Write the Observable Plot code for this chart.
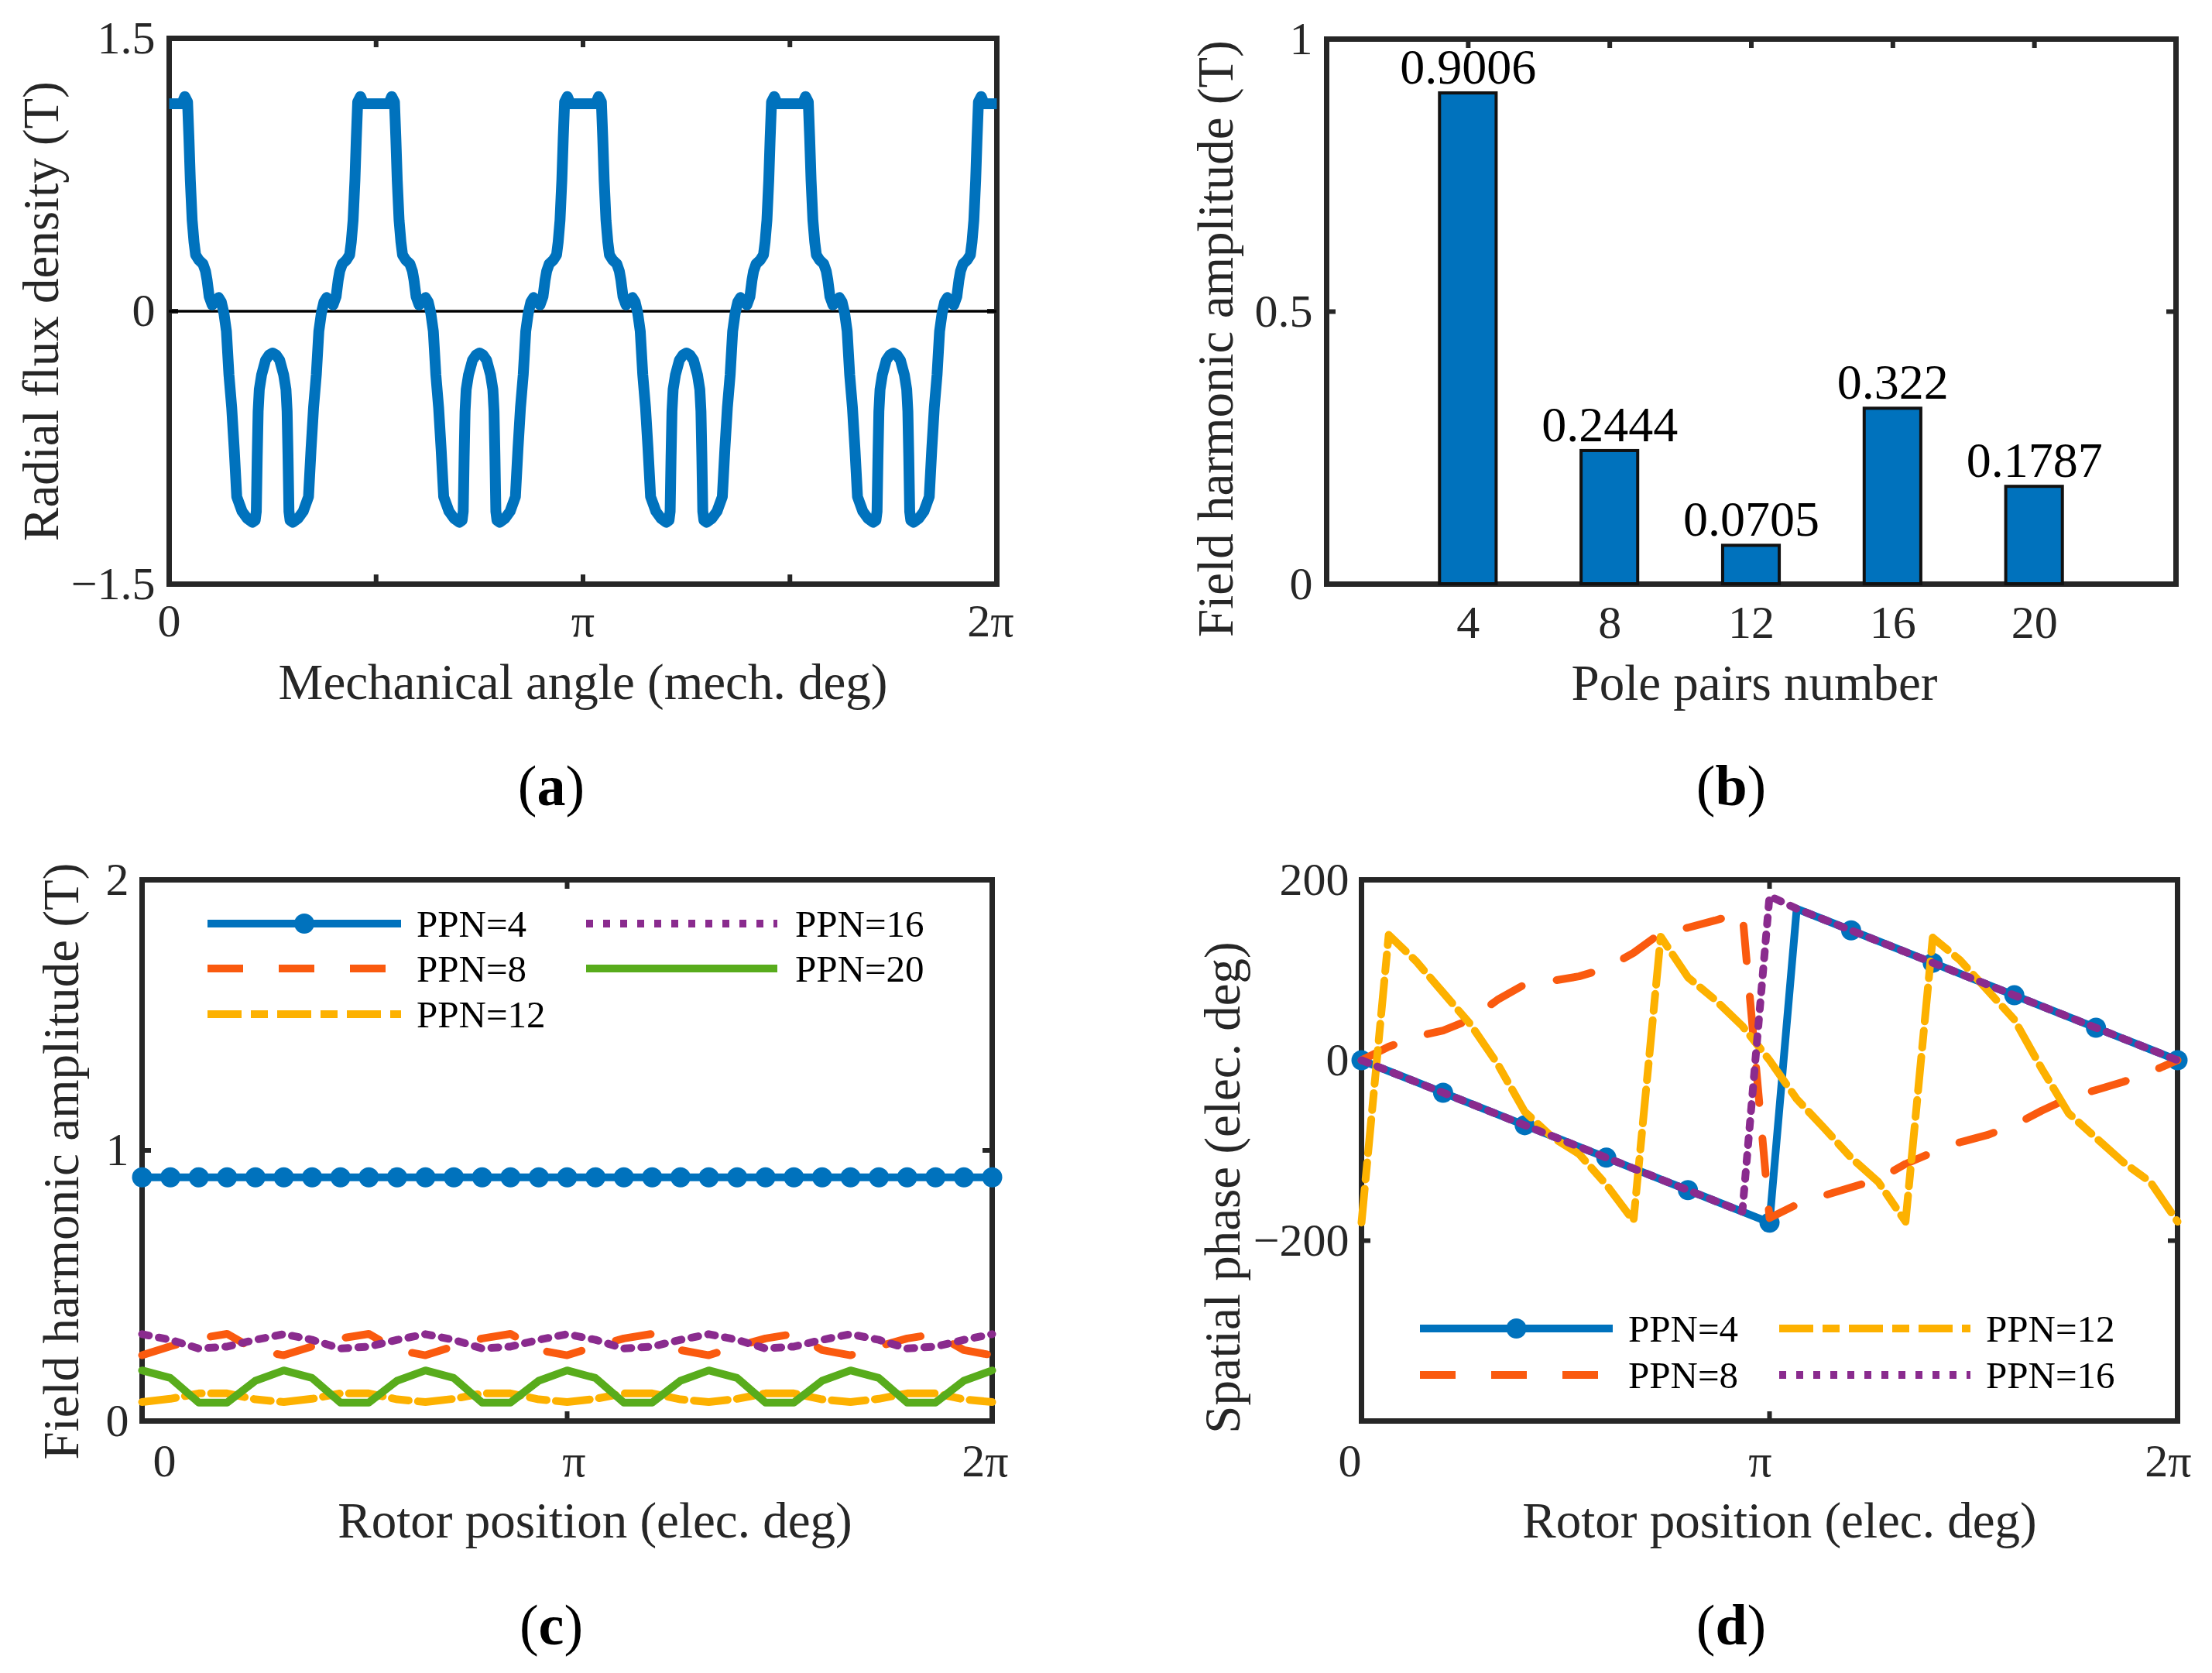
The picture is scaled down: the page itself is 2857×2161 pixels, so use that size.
<!DOCTYPE html>
<html><head><meta charset="utf-8">
<script src="https://cdn.jsdelivr.net/npm/d3@7"></script>
<script src="https://cdn.jsdelivr.net/npm/@observablehq/plot@0.6"></script>
<style>
html,body{margin:0;padding:0;background:#fff;}
#root{position:relative;width:2857px;height:2161px;overflow:hidden;background:#fff;font-family:"Liberation Serif","Times New Roman",serif;}
.panel{position:absolute;}
.cap{position:absolute;font-size:74px;color:#000;transform:translate(-50%,-50%);white-space:nowrap;line-height:1;}
</style></head><body><div id="root"></div>
<script>
// ---------------- DATA ----------------
// (a) radial flux density vs mechanical angle (deg)
const fluxAngle = [
0,5.5,6.8,8,8.6,9.2,10,10.8,11.5,13,14.7,15.8,16.5,17.4,18.7,20,21.5,22.7,23.8,24.9,26,27.2,28.3,29.4,31.7,34,36.2,37.4,37.9,38.3,38.7,39.2,40.2,41.9,43.5,45,46.5,48.1,49.8,50.8,51.3,51.7,52.1,52.6,53.8,56,58.3,60.6,61.7,62.8,64,65.1,66.2,67.3,68.5,70,71.3,72.6,73.5,74.2,75.3,77,78.5,79.2,80,80.8,81.4,82,83.2,84.5,
90,95.5,96.8,98,98.6,99.2,100,100.8,101.5,103,104.7,105.8,106.5,107.4,108.7,110,111.5,112.7,113.8,114.9,116,117.2,118.3,119.4,121.7,124,126.2,127.4,127.9,128.3,128.7,129.2,130.2,131.9,133.5,135,136.5,138.1,139.8,140.8,141.3,141.7,142.1,142.6,143.8,146,148.3,150.6,151.7,152.8,154,155.1,156.2,157.3,158.5,160,161.3,162.6,163.5,164.2,165.3,167,168.5,169.2,170,170.8,171.4,172,173.2,174.5,
180,185.5,186.8,188,188.6,189.2,190,190.8,191.5,193,194.7,195.8,196.5,197.4,198.7,200,201.5,202.7,203.8,204.9,206,207.2,208.3,209.4,211.7,214,216.2,217.4,217.9,218.3,218.7,219.2,220.2,221.9,223.5,225,226.5,228.1,229.8,230.8,231.3,231.7,232.1,232.6,233.8,236,238.3,240.6,241.7,242.8,244,245.1,246.2,247.3,248.5,250,251.3,252.6,253.5,254.2,255.3,257,258.5,259.2,260,260.8,261.4,262,263.2,264.5,
270,275.5,276.8,278,278.6,279.2,280,280.8,281.5,283,284.7,285.8,286.5,287.4,288.7,290,291.5,292.7,293.8,294.9,296,297.2,298.3,299.4,301.7,304,306.2,307.4,307.9,308.3,308.7,309.2,310.2,311.9,313.5,315,316.5,318.1,319.8,320.8,321.3,321.7,322.1,322.6,323.8,326,328.3,330.6,331.7,332.8,334,335.1,336.2,337.3,338.5,340,341.3,342.6,343.5,344.2,345.3,347,348.5,349.2,350,350.8,351.4,352,353.2,354.5,
360];
const fluxDensity = [
1.14,1.14,1.18,1.15,0.95,0.72,0.5,0.38,0.31,0.28,0.26,0.22,0.17,0.08,0.035,0.05,0.075,0.05,-0.01,-0.11,-0.35,-0.53,-0.76,-1.02,-1.1,-1.14,-1.16,-1.15,-1.1,-0.8,-0.55,-0.43,-0.35,-0.27,-0.24,-0.23,-0.24,-0.27,-0.35,-0.43,-0.55,-0.8,-1.1,-1.15,-1.16,-1.14,-1.1,-1.02,-0.76,-0.53,-0.35,-0.11,-0.01,0.05,0.075,0.05,0.035,0.08,0.17,0.22,0.26,0.28,0.31,0.38,0.5,0.72,0.95,1.15,1.18,1.14,
1.14,1.14,1.18,1.15,0.95,0.72,0.5,0.38,0.31,0.28,0.26,0.22,0.17,0.08,0.035,0.05,0.075,0.05,-0.01,-0.11,-0.35,-0.53,-0.76,-1.02,-1.1,-1.14,-1.16,-1.15,-1.1,-0.8,-0.55,-0.43,-0.35,-0.27,-0.24,-0.23,-0.24,-0.27,-0.35,-0.43,-0.55,-0.8,-1.1,-1.15,-1.16,-1.14,-1.1,-1.02,-0.76,-0.53,-0.35,-0.11,-0.01,0.05,0.075,0.05,0.035,0.08,0.17,0.22,0.26,0.28,0.31,0.38,0.5,0.72,0.95,1.15,1.18,1.14,
1.14,1.14,1.18,1.15,0.95,0.72,0.5,0.38,0.31,0.28,0.26,0.22,0.17,0.08,0.035,0.05,0.075,0.05,-0.01,-0.11,-0.35,-0.53,-0.76,-1.02,-1.1,-1.14,-1.16,-1.15,-1.1,-0.8,-0.55,-0.43,-0.35,-0.27,-0.24,-0.23,-0.24,-0.27,-0.35,-0.43,-0.55,-0.8,-1.1,-1.15,-1.16,-1.14,-1.1,-1.02,-0.76,-0.53,-0.35,-0.11,-0.01,0.05,0.075,0.05,0.035,0.08,0.17,0.22,0.26,0.28,0.31,0.38,0.5,0.72,0.95,1.15,1.18,1.14,
1.14,1.14,1.18,1.15,0.95,0.72,0.5,0.38,0.31,0.28,0.26,0.22,0.17,0.08,0.035,0.05,0.075,0.05,-0.01,-0.11,-0.35,-0.53,-0.76,-1.02,-1.1,-1.14,-1.16,-1.15,-1.1,-0.8,-0.55,-0.43,-0.35,-0.27,-0.24,-0.23,-0.24,-0.27,-0.35,-0.43,-0.55,-0.8,-1.1,-1.15,-1.16,-1.14,-1.1,-1.02,-0.76,-0.53,-0.35,-0.11,-0.01,0.05,0.075,0.05,0.035,0.08,0.17,0.22,0.26,0.28,0.31,0.38,0.5,0.72,0.95,1.15,1.18,1.14,
1.14];

// (b) harmonic spectrum
const polePairs = [4, 8, 12, 16, 20];
const harmonicAmp = [0.9006, 0.2444, 0.0705, 0.322, 0.1787];

// (c), (d) rotor position (elec. deg)
const rotorPos = [0,12,24,36,48,60,72,84,96,108,120,132,144,156,168,180,192,204,216,228,240,252,264,276,288,300,312,324,336,348,360];
const ampPPN4  = [0.9006,0.9006,0.9006,0.9006,0.9006,0.9006,0.9006,0.9006,0.9006,0.9006,0.9006,0.9006,0.9006,0.9006,0.9006,0.9006,0.9006,0.9006,0.9006,0.9006,0.9006,0.9006,0.9006,0.9006,0.9006,0.9006,0.9006,0.9006,0.9006,0.9006,0.9006];
const ampPPN8  = [0.243,0.276,0.305,0.322,0.262,0.243,0.276,0.305,0.322,0.262,0.243,0.276,0.305,0.322,0.262,0.243,0.276,0.305,0.322,0.262,0.243,0.276,0.305,0.322,0.262,0.243,0.276,0.305,0.322,0.262,0.243];
const ampPPN12 = [0.07,0.082,0.102,0.102,0.08,0.07,0.082,0.102,0.102,0.08,0.07,0.082,0.102,0.102,0.08,0.07,0.082,0.102,0.102,0.08,0.07,0.082,0.102,0.102,0.08,0.07,0.082,0.102,0.102,0.08,0.07];
const ampPPN16 = [0.321,0.3,0.268,0.275,0.3,0.321,0.3,0.268,0.275,0.3,0.321,0.3,0.268,0.275,0.3,0.321,0.3,0.268,0.275,0.3,0.321,0.3,0.268,0.275,0.3,0.321,0.3,0.268,0.275,0.3,0.321];
const ampPPN20 = [0.187,0.159,0.068,0.068,0.149,0.187,0.159,0.068,0.068,0.149,0.187,0.159,0.068,0.068,0.149,0.187,0.159,0.068,0.068,0.149,0.187,0.159,0.068,0.068,0.149,0.187,0.159,0.068,0.068,0.149,0.187];

const phasePPN4  = [0,-12,-24,-36,-48,-60,-72,-84,-96,-108,-120,-132,-144,-156,-168,-180,168,156,144,132,120,108,96,84,72,60,48,36,24,12,0];
const phasePPN8  = [0,15,26,33,45,67,84,88,93,102,119,141,147,155,164,-175,-160,-150,-141,-132,-115,-102,-91,-83,-72,-56,-42,-33,-24,-13,0];
const phasePPN12 = [-180,139,110,75,40,-4,-57,-85,-104,-138,-178,137,92,67,38,0,-43,-75,-108,-135,-179,136,111,78,45,-9,-59,-86,-113,-135,-179];
const phasePPN16 = [0,-12,-24,-36,-48,-60,-72,-84,-96,-108,-120,-132,-144,-156,-168,182,168,156,144,132,120,108,96,84,72,60,48,36,24,12,0];

// tick values and labels
const angleTicks = [0, 180, 360];
const angleTickLabels = ["0", "π", "2π"];
const angleMinorTicks = [90, 270];
const fluxTicks = [-1.5, 0, 1.5];
const fluxTickLabels = ["−1.5", "0", "1.5"];
const ppTicks = [4, 8, 12, 16, 20];
const ppTickLabels = ["4", "8", "12", "16", "20"];
const specTicks = [0, 0.5, 1];
const specTickLabels = ["0", "0.5", "1"];
const ampTicks = [0, 1, 2];
const ampTickLabels = ["0", "1", "2"];
const phaseTicks = [-200, 0, 200];
const phaseTickLabels = ["−200", "0", "200"];

// ---------------- STYLE ----------------
const FONT = '"Liberation Serif","Times New Roman",serif';
const AX = "#262626";
const TL = 12;
const S = {
  4:  {label: "PPN=4",  color: "#0072BD", dash: null, marker: true},
  8:  {label: "PPN=8",  color: "#FA5A0F", dash: "46,46"},
  12: {label: "PPN=12", color: "#FDB100", dash: "44,12,22,12"},
  16: {label: "PPN=16", color: "#8A2B8E", dash: "9,13"},
  20: {label: "PPN=20", color: "#58AC1C", dash: null}
};
const LW = 10;
const MR = 13;

const root = document.getElementById("root");

function panel(o) {
  const [mt, mr, mb, ml] = o.m;
  const fw = o.width - ml - mr, fh = o.height - mt - mb;
  const yMap = new Map(o.yTicks.map((t, i) => [t, o.yLabels[i]]));
  const allX = o.xTicks.concat(o.xMinor || []);
  const tickStyle = {stroke: AX, strokeWidth: 6};
  const xDx = o.xDx || o.xTicks.map(() => 0);
  const xAxes = o.xTicks.map((t, i) =>
    Plot.axisX({ticks: [t], tickFormat: () => o.xLabels[i], tickSize: 0, tickPadding: o.xPad, fontSize: 60, color: AX, label: null, dx: xDx[i], fontFamily: FONT}));
  const svg = Plot.plot({
    width: o.width, height: o.height,
    marginTop: mt, marginRight: mr, marginBottom: mb, marginLeft: ml,
    style: {fontFamily: FONT, background: "transparent", overflow: "visible"},
    x: {domain: o.xDomain},
    y: {domain: o.yDomain},
    marks: [
      Plot.frame({stroke: AX, strokeWidth: 7}),
      Plot.tickX(allX, {x: d => d, insetTop: fh - TL, ...tickStyle}),
      Plot.tickX(allX, {x: d => d, insetBottom: fh - TL, ...tickStyle}),
      Plot.tickY(o.yTicks, {y: d => d, insetRight: fw - TL, ...tickStyle}),
      Plot.tickY(o.yTicks, {y: d => d, insetLeft: fw - TL, ...tickStyle}),
      ...o.marks,
      ...xAxes,
      Plot.axisY({ticks: o.yTicks, tickFormat: d => yMap.get(d), tickSize: 0, tickPadding: o.yPad, fontSize: 60, color: AX, label: null, fontFamily: FONT}),
      Plot.text([o.xlabel], {text: d => d, frameAnchor: "bottom", textAnchor: "middle", lineAnchor: "middle", dy: o.xlabDy, dx: o.xlabDx || 0, fontSize: 65, fill: AX, fontFamily: FONT}),
      Plot.text([o.ylabel], {text: d => d, frameAnchor: "left", textAnchor: "middle", lineAnchor: "middle", dx: o.ylabDx, dy: o.ylabDy || 0, rotate: -90, fontSize: 65, fill: AX, fontFamily: FONT})
    ]
  });
  const div = document.createElement("div");
  div.className = "panel";
  div.style.left = o.left + "px";
  div.style.top = o.top + "px";
  div.appendChild(svg);
  root.appendChild(div);
}

// ---------- (a) ----------
const fluxData = fluxAngle.map((a, i) => ({a, b: fluxDensity[i]}));
panel({
  left: 0, top: 0, width: 1428, height: 1080, m: [49, 141, 326, 218],
  xDomain: [0, 360], yDomain: [-1.5, 1.5],
  xTicks: angleTicks, xLabels: angleTickLabels, xMinor: angleMinorTicks, xDx: [0, 0, -8],
  yTicks: fluxTicks, yLabels: fluxTickLabels,
  xPad: 25, yPad: 18,
  xlabel: "Mechanical angle (mech. deg)", xlabDy: 128,
  ylabel: "Radial flux density (T)", ylabDx: -164,
  marks: [
    Plot.ruleY([0], {stroke: "#000", strokeWidth: 3.5}),
    Plot.line(fluxData, {x: "a", y: "b", stroke: "#0072BD", strokeWidth: 14, strokeLinejoin: "round", strokeLinecap: "butt"})
  ]
});

// ---------- (b) ----------
const specData = polePairs.map((p, i) => ({p, v: harmonicAmp[i]}));
panel({
  left: 1428, top: 0, width: 1429, height: 1080, m: [50, 47, 326, 285],
  xDomain: [0, 24], yDomain: [0, 1],
  xTicks: ppTicks, xLabels: ppTickLabels,
  yTicks: specTicks, yLabels: specTickLabels,
  xPad: 27, yPad: 18,
  xlabel: "Pole pairs number", xlabDy: 129, xlabDx: 4,
  ylabel: "Field harmonic amplitude (T)", ylabDx: -142, ylabDy: 35,
  marks: [
    Plot.rectY(specData, {x1: d => d.p - 0.8, x2: d => d.p + 0.8, y: "v", fill: "#0072BD", stroke: "#111", strokeWidth: 4}),
    Plot.text(specData, {x: "p", y: "v", text: d => String(d.v), dy: -33, fontSize: 64, fill: "#000", fontFamily: FONT})
  ]
});

// ---------- (c) ----------
const ampSeries = [
  [4, ampPPN4], [8, ampPPN8], [12, ampPPN12], [16, ampPPN16], [20, ampPPN20]
];
const cMarks = [];
for (const [k, vals] of ampSeries) {
  const d = rotorPos.map((t, i) => ({t, v: vals[i]}));
  cMarks.push(Plot.line(d, {x: "t", y: "v", stroke: S[k].color, strokeWidth: LW, strokeDasharray: S[k].dash || undefined, strokeLinejoin: "round"}));
  if (S[k].marker) cMarks.push(Plot.dot(d, {x: "t", y: "v", r: MR, fill: S[k].color, stroke: "none"}));
}
panel({
  left: 0, top: 1080, width: 1428, height: 1081, m: [56, 147, 326, 183],
  xDomain: [0, 360], yDomain: [0, 2],
  xTicks: angleTicks, xLabels: angleTickLabels, xDx: [29, 9, -9],
  yTicks: ampTicks, yLabels: ampTickLabels,
  xPad: 29, yPad: 17,
  xlabel: "Rotor position (elec. deg)", xlabDy: 130, xlabDx: 36,
  ylabel: "Field harmonic amplitude (T)", ylabDx: -103, ylabDy: 14,
  marks: cMarks
});

// ---------- (d) ----------
const phaseSeries = [
  [4, phasePPN4], [8, phasePPN8], [12, phasePPN12], [16, phasePPN16]
];
const dMarks = [];
for (const [k, vals] of phaseSeries) {
  const d = rotorPos.map((t, i) => ({t, v: vals[i], i}));
  dMarks.push(Plot.line(d, {x: "t", y: "v", stroke: S[k].color, strokeWidth: LW, strokeDasharray: S[k].dash || undefined, strokeLinejoin: "round"}));
  if (S[k].marker) dMarks.push(Plot.dot(d.filter(e => e.i % 3 === 0), {x: "t", y: "v", r: MR, fill: S[k].color, stroke: "none"}));
}
panel({
  left: 1428, top: 1080, width: 1429, height: 1081, m: [56, 45, 326, 330],
  xDomain: [0, 360], yDomain: [-400, 200],
  xTicks: angleTicks, xLabels: angleTickLabels, xDx: [-15, -12, -12],
  yTicks: phaseTicks, yLabels: phaseTickLabels,
  xPad: 29, yPad: 16,
  xlabel: "Rotor position (elec. deg)", xlabDy: 130, xlabDx: 13,
  ylabel: "Spatial phase (elec. deg)", ylabDx: -178, ylabDy: 48,
  marks: dMarks
});

// ---------- legends ----------
const leg = d3.select(root).append("svg")
  .attr("width", 2857).attr("height", 2161)
  .style("position", "absolute").style("left", "0px").style("top", "0px")
  .style("pointer-events", "none");
function legendEntry(x1, x2, y, tx, s) {
  leg.append("line").attr("x1", x1).attr("x2", x2).attr("y1", y).attr("y2", y)
    .attr("stroke", s.color).attr("stroke-width", LW)
    .attr("stroke-dasharray", s.dash);
  if (s.marker) leg.append("circle").attr("cx", (x1 + x2) / 2).attr("cy", y).attr("r", MR).attr("fill", s.color);
  leg.append("text").attr("x", tx).attr("y", y).attr("dy", "0.35em")
    .attr("font-size", 49).style("font-family", FONT).attr("fill", "#000").text(s.label);
}
// (c) legend
legendEntry(268, 518, 1193, 538, S[4]);
legendEntry(268, 518, 1251, 538, S[8]);
legendEntry(268, 518, 1310, 538, S[12]);
legendEntry(757, 1004, 1193, 1027, S[16]);
legendEntry(757, 1004, 1251, 1027, S[20]);
// (d) legend
legendEntry(1834, 2083, 1716, 2103, S[4]);
legendEntry(1834, 2083, 1776, 2103, S[8]);
legendEntry(2298, 2545, 1716, 2565, S[12]);
legendEntry(2298, 2545, 1776, 2565, S[16]);

// ---------- captions ----------
for (const [t, x, y] of [["a", 712, 1015], ["b", 2236, 1015], ["c", 712, 2099], ["d", 2236, 2099]]) {
  const c = document.createElement("div");
  c.className = "cap";
  c.style.left = x + "px";
  c.style.top = y + "px";
  c.innerHTML = "(<b>" + t + "</b>)";
  root.appendChild(c);
}
</script></body></html>
